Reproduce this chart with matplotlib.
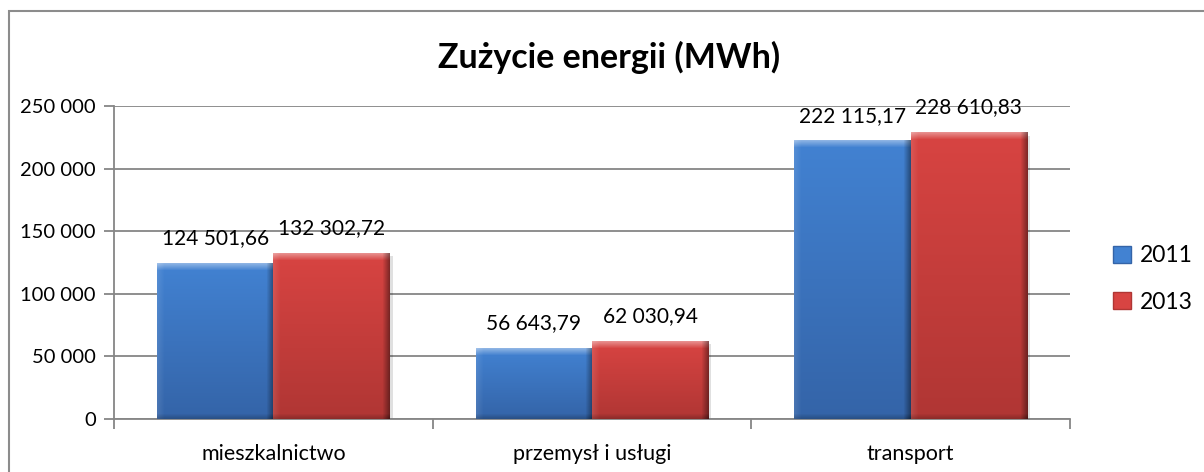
import matplotlib
matplotlib.use('Agg')
import matplotlib.pyplot as plt
import numpy as np
from matplotlib.patches import Rectangle, Patch
from matplotlib.ticker import FixedLocator, FuncFormatter

plt.rcParams['font.family'] = ['Lato', 'DejaVu Sans']

categories = ["mieszkalnictwo", "przemysł i usługi", "transport"]
years = ["2011", "2013"]
vals_2011 = [124501.66, 56643.79, 222115.17]
vals_2013 = [132302.72, 62030.94, 228610.83]
y_ticks = [0, 50000, 100000, 150000, 200000, 250000]
title = "Zużycie energii (MWh)"

# kolory: gora / dol slupka
blue_top, blue_bot = np.array([0x42, 0x82, 0xD2]) / 255, np.array([0x34, 0x64, 0xA8]) / 255
red_top, red_bot = np.array([0xD8, 0x44, 0x42]) / 255, np.array([0xB0, 0x36, 0x34]) / 255
grid_col = "#868686"


def pl_num(v):
    return f"{v:,.2f}".replace(",", " ").replace(".", ",")


def pl_int(v, pos=None):
    return f"{int(v):,}".replace(",", " ")


def bevel_img(h, w, top, bot):
    t = np.linspace(0, 1, h)[:, None, None]
    img = top * (1 - t) + bot * t
    img = np.repeat(img, w, axis=1)
    yy = np.arange(h)[:, None]
    xx = np.arange(w)[None, :]
    e = 7.0
    light = np.clip(1 - yy / e, 0, 1) * 0.4 + np.clip(1 - xx / e, 0, 1) * 0.1
    dark = np.clip(1 - (w - 1 - xx) / e, 0, 1) * 0.4 + np.clip(1 - (h - 1 - yy) / 5.0, 0, 1) * 0.2
    light = light[..., None]
    dark = dark[..., None]
    img = img * (1 - light) + light
    img = img * (1 - dark)
    return np.clip(img, 0, 1)


W, H = 1204, 472
fig = plt.figure(figsize=(W / 100, H / 100), dpi=100)
ax = fig.add_axes([114 / W, 1 - 419 / H, (1070 - 114) / W, (419 - 106) / H])

x = np.arange(len(categories))
bw = 0.365
b1 = ax.bar(x - bw / 2, vals_2011, bw, color=blue_bot, zorder=3, linewidth=0)
b2 = ax.bar(x + bw / 2, vals_2013, bw, color=red_bot, zorder=3, linewidth=0)

ax.set_xlim(-0.5, len(categories) - 0.5)
ax.set_ylim(0, 250000)

# gradient + bevel
px_per_x = (1070 - 114) / 3.0
px_per_y = (419 - 106) / 250000.0
for bars, top, bot in [(b1, blue_top, blue_bot), (b2, red_top, red_bot)]:
    for p in bars:
        x0, y0 = p.get_x(), p.get_y()
        w, h = p.get_width(), p.get_height()
        wp = max(int(round(w * px_per_x)), 2)
        hp = max(int(round(h * px_per_y)), 2)
        img = bevel_img(hp, wp, top, bot)
        # cien
        ax.add_patch(Rectangle((x0 + 3 / px_per_x, y0), w, h - 3 / px_per_y,
                               facecolor="#000000", alpha=0.12, linewidth=0, zorder=2))
        ax.imshow(img, extent=(x0, x0 + w, y0, y0 + h), aspect="auto", zorder=4,
                  interpolation="bilinear")

for bars, vals in [(b1, vals_2011), (b2, vals_2013)]:
    for p, v in zip(bars, vals):
        ax.annotate(pl_num(v), (p.get_x() + p.get_width() / 2, v), xytext=(0, 11),
                    textcoords="offset points", ha="center", va="bottom", fontsize=15,
                    zorder=6)

ax.set_xlim(-0.5, len(categories) - 0.5)
ax.set_ylim(0, 250000)

ax.yaxis.set_major_locator(FixedLocator(y_ticks))
ax.yaxis.set_major_formatter(FuncFormatter(pl_int))
ax.grid(axis="y", color=grid_col, linewidth=1.3, zorder=0)
ax.set_axisbelow(True)

ax.set_xticks(x)
ax.set_xticklabels(categories)
ax.xaxis.set_minor_locator(FixedLocator(np.arange(len(categories) + 1) - 0.5))
ax.tick_params(axis="x", which="major", length=0, pad=18, labelsize=15.5)
ax.tick_params(axis="x", which="minor", length=7, width=1.3, color=grid_col)
ax.tick_params(axis="y", length=7, width=1.3, color=grid_col, labelsize=14.5, pad=6)

for s in ["top", "right"]:
    ax.spines[s].set_visible(False)
for s in ["left", "bottom"]:
    ax.spines[s].set_color(grid_col)
    ax.spines[s].set_linewidth(1.3)

fig.text(609 / W, 1 - 57 / H, title, ha="center", va="center", fontsize=24.5,
         fontweight="bold")

handles = [Patch(facecolor=blue_top, edgecolor=blue_bot), Patch(facecolor=red_top, edgecolor=red_bot)]
fig.legend(handles, years, loc="center left", bbox_to_anchor=(1092 / W, 1 - 279 / H),
           frameon=False, fontsize=16.5, handlelength=0.8, handleheight=0.8,
           handletextpad=0.4, labelspacing=1.1)

# ramka wykresu
fig.patches.append(Rectangle((9 / W, -0.05), 1.1, 1.05 - 11 / H, transform=fig.transFigure,
                             fill=False, edgecolor="#8c8c8c", linewidth=1.5))

fig.savefig("out.png", dpi=100)
